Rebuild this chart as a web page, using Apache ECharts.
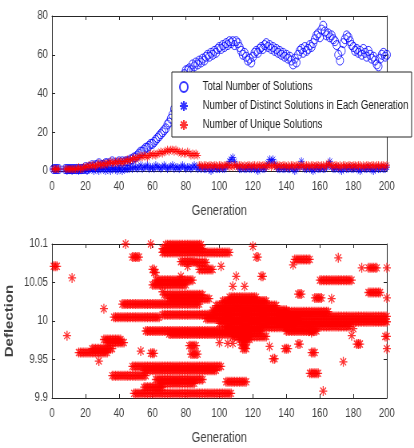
<!DOCTYPE html>
<html>
<head>
<meta charset="utf-8">
<script src="https://cdn.jsdelivr.net/npm/echarts@6/dist/echarts.min.js"></script>
<style>
  html, body { margin: 0; padding: 0; background: #fff; overflow: hidden; }
  #wrap { width: 414px; height: 448px; overflow: hidden; }
  /* the figure is laid out on a wider canvas and squeezed horizontally */
  #chart { width: 518px; height: 448px; transform: scaleX(0.79923); transform-origin: 0 0; }
</style>
</head>
<body>
<div id="wrap"><div id="chart"></div></div>
<script>
// ---- solution counts per generation (null = no record) ----
const totalSolutions = [
  1,1,1,1,null,null,null,
  1,1,1,1,1,1,1,1,1,1,1,1,
  2,1,2,2,3,2,3,3,4,3,3,
  3,4,4,3,4,5,4,3,4,5,4,5,4,5,5,
  5,6,6,7,7,8,9,10,10,11,12,12,13,14,14,15,16,17,18,19,20,21,22,24,25,
  27,29,32,35,38,41,44,47,50,52,
  52,53,52,55,54,56,55,57,56,58,57,59,60,59,61,60,62,61,63,64,
  63,65,64,66,65,67,66,67,65,67,66,64,62,60,61,59,57,58,56,59,
  61,62,61,63,64,63,65,66,64,65,63,64,62,63,61,62,60,61,59,60,
  58,59,57,55,58,56,60,62,63,61,64,62,63,65,64,66,68,70,71,69,
  73,75,72,70,71,69,70,68,67,65,60,57,62,66,68,70,69,67,65,64,
  62,63,61,62,60,63,61,59,62,60,58,59,57,55,54,58,60,61,59,60
];

const distinctSolutions = [
  1,1,1,1,null,null,null,
  1,0,1,1,0,1,1,1,0,1,1,1,
  1,0,1,1,1,0,1,1,0,1,1,1,0,1,1,0,1,1,1,0,1,1,0,1,1,1,
  1,2,1,2,2,1,2,3,1,2,2,3,1,2,2,1,3,2,2,1,2,3,2,1,2,2,3,1,2,2,1,2,3,2,1,2,2,1,2,3,2,1,2,
  1,2,1,1,2,1,0,1,2,1,
  1,1,2,1,1,2,3,5,6,7,
  5,3,2,1,1,2,1,1,2,1,
  1,2,1,1,0,1,2,1,1,2,
  4,6,5,6,4,2,1,1,2,1,
  1,2,1,1,2,1,0,1,2,2,
  5,2,1,1,2,1,1,0,1,2,
  1,1,2,1,1,2,3,5,2,1,
  1,2,1,1,0,1,2,1,1,2,
  1,1,2,1,1,0,1,2,1,1,
  2,1,1,0,1,2,1,1,2,1,
  1,2
];

const uniqueSolutions = [
  1,1,1,1,null,null,null,
  1,1,1,1,1,1,1,1,2,1,1,2,
  2,2,3,2,3,3,2,3,4,3,3,
  4,3,4,4,5,4,4,5,4,5,5,4,5,5,6,
  5,6,6,7,6,7,7,8,7,8,8,7,8,9,8,
  9,8,9,9,10,9,10,10,11,10,11,11,10,11,10,
  10,9,10,9,9,10,9,8,9,8,9,8,
  3,3,2,3,3,2,3,3,2,3,
  3,2,3,3,2,3,3,3,2,3,
  2,3,3,2,3,3,2,3,2,3,
  3,2,3,3,2,3,3,2,3,3,
  2,3,3,2,3,3,2,3,3,2,
  3,3,2,3,2,3,3,2,3,3,
  2,3,3,2,3,3,2,3,3,2,
  3,3,2,3,3,2,3,4,3,3,
  2,3,3,2,3,2,3,3,2,3,
  3,2,3,3,2,3,3,2,3,2,
  3,3,2,3,3,2,3,3,2,3,
  3,2,3
];

// ---- deflection of surviving solutions: [deflection, first generation, last generation] ----
const deflectionRuns = [
  [10.071, 1, 3], [9.981, 9, 9], [10.056, 12, 12],
  [9.959, 16, 33], [9.964, 24, 36], [9.948, 28, 28], [10.016, 31, 31],
  [9.976, 31, 41], [9.972, 33, 43], [10.005, 37, 64], [9.929, 36, 56],
  [10.022, 42, 88], [10.1, 44, 44], [10.083, 48, 52],
  [9.941, 48, 101], [9.936, 55, 98], [9.906, 49, 107], [9.914, 55, 66],
  [9.961, 53, 53], [9.958, 59, 61], [10.1, 59, 59],
  [10.067, 60, 61], [10.063, 61, 62], [10.047, 60, 80], [10.053, 62, 84],
  [9.987, 56, 125], [9.983, 70, 118], [9.924, 62, 90], [9.919, 65, 85],
  [10.038, 66, 66], [10.034, 67, 90], [10.029, 70, 94], [10.008, 66, 140],
  [10.099, 68, 89], [10.094, 66, 90], [10.089, 66, 106],
  [10.058, 77, 77], [10.077, 77, 85], [10.071, 81, 81],
  [10.076, 86, 92], [10.067, 88, 96], [9.968, 82, 86], [9.957, 83, 87],
  [10.071, 101, 101], [9.972, 100, 100], [9.971, 105, 105], [9.971, 108, 108],
  [9.969, 113, 116], [9.964, 114, 116], [9.921, 104, 116],
  [10.045, 108, 108], [10.058, 110, 110], [10.045, 115, 115],
  [10.097, 120, 120], [10.083, 122, 123], [10.058, 125, 126],
  [10.031, 106, 122], [10.026, 102, 128], [10.020, 98, 134], [10.014, 96, 140],
  [10.003, 92, 148], [9.997, 100, 145], [9.992, 104, 140], [9.980, 108, 128], [9.976, 112, 118],
  [10.012, 140, 165], [10.006, 140, 200], [9.999, 138, 200], [9.993, 140, 178], [9.987, 140, 158],
  [9.967, 130, 130], [9.951, 132, 133], [9.964, 139, 141],
  [10.073, 144, 144], [10.08, 145, 154], [10.035, 147, 149], [9.97, 147, 148],
  [9.985, 155, 155], [9.959, 155, 157], [9.932, 154, 159], [10.03, 157, 161],
  [10.053, 160, 179], [9.909, 162, 162], [10.029, 167, 167], [10.082, 171, 171],
  [9.947, 174, 174], [9.981, 179, 179], [9.99, 180, 180], [9.97, 182, 184],
  [10.069, 185, 185], [10.069, 189, 194], [10.037, 189, 196],
  [9.98, 199, 200], [10.069, 200, 200], [10.03, 200, 200], [9.964, 200, 200]
];

const genTicks = { min: 0, max: 200, interval: 20 };
const countTicks = { min: 0, max: 80, interval: 20 };
const deflTicks = { min: 9.9, max: 10.1, interval: 0.05 };

const legendNames = [
  'Total Number of Solutions',
  'Number of Distinct Solutions in Each Generation',
  'Number of Unique Solutions'
];

// ---- helpers ----
const FONT = "'Liberation Sans', Arial, sans-serif";
const LINE = '#262626';
const LABEL = '#404040';
const ASTERISK = 'path://M0,-10L0,10M-10,0L10,0M-7.07,-7.07L7.07,7.07M-7.07,7.07L7.07,-7.07';

function pairs(values) {
  const out = [];
  values.forEach((v, i) => { if (v !== null) out.push([i + 1, v]); });
  return out;
}
function expandRuns(runs) {
  const out = [];
  runs.forEach(([d, a, b]) => { for (let g = a; g <= b; g++) out.push([g, d]); });
  return out;
}
function axis(gridIndex, ticks, position, showLabels, extra) {
  return Object.assign({
    type: 'value', gridIndex, position,
    min: ticks.min, max: ticks.max, interval: ticks.interval,
    axisLine: { show: true, onZero: false, lineStyle: { color: LINE, width: 1 } },
    axisTick: { show: true, inside: true, length: 4, lineStyle: { color: LINE, width: 1 } },
    axisLabel: { show: showLabels, color: LABEL, fontSize: 12, fontFamily: FONT,
                 margin: (position === 'left') ? 5 : 10 },
    splitLine: { show: false }
  }, extra || {});
}
const axisName = (name, gap, size, weight) => ({
  name, nameLocation: 'middle', nameGap: gap,
  nameTextStyle: { color: LABEL, fontSize: size, fontFamily: FONT, fontWeight: weight }
});

function scatter(name, data, symbol, size, color, xi, yi, z, stroke) {
  return {
    name, type: 'scatter', data, symbol, symbolSize: size,
    xAxisIndex: xi, yAxisIndex: yi, z,
    large: false, progressive: 0, clip: false,
    itemStyle: { color: 'rgba(0,0,0,0)', borderColor: color, borderWidth: stroke || 1 },
    emphasis: { disabled: true }
  };
}

const chart = echarts.init(document.getElementById('chart'), null, { renderer: 'canvas' });
chart.setOption({
  animation: false,
  backgroundColor: '#fff',
  grid: [
    { left: 65, top: 16, width: 419, height: 155, containLabel: false, outerBoundsMode: 'none' },
    { left: 65, top: 244, width: 419, height: 154, containLabel: false, outerBoundsMode: 'none' }
  ],
  xAxis: [
    axis(0, genTicks, 'bottom', true, axisName('Generation', 33, 14, 'normal')),
    axis(0, genTicks, 'top', false),
    axis(1, genTicks, 'bottom', true, axisName('Generation', 33, 14, 'normal')),
    axis(1, genTicks, 'top', false)
  ],
  yAxis: [
    axis(0, countTicks, 'left', true),
    axis(0, countTicks, 'right', false),
    axis(1, deflTicks, 'left', true, axisName('Deflection', 37, 15, 'bold')),
    axis(1, deflTicks, 'right', false)
  ],
  legend: {
    data: legendNames,
    orient: 'vertical',
    left: 215, top: 72,
    padding: [9, 4, 6, 9],
    itemWidth: 37, itemHeight: 10, itemGap: 7,
    backgroundColor: '#fff',
    borderColor: LINE, borderWidth: 1, borderRadius: 0,
    selectedMode: false,
    textStyle: { color: '#1a1a1a', fontSize: 12, fontFamily: FONT },
    z: 10
  },
  series: [
    scatter(legendNames[0], pairs(totalSolutions), 'circle', 9, '#0000ff', 0, 0, 2),
    scatter(legendNames[1], pairs(distinctSolutions), ASTERISK, 8, '#0000ff', 0, 0, 3),
    scatter(legendNames[2], pairs(uniqueSolutions), ASTERISK, 8, '#ff0000', 0, 0, 4),
    scatter('Deflection', expandRuns(deflectionRuns), ASTERISK, 10, '#ff0000', 2, 2, 2, 1.3)
  ]
});
</script>
</body>
</html>
